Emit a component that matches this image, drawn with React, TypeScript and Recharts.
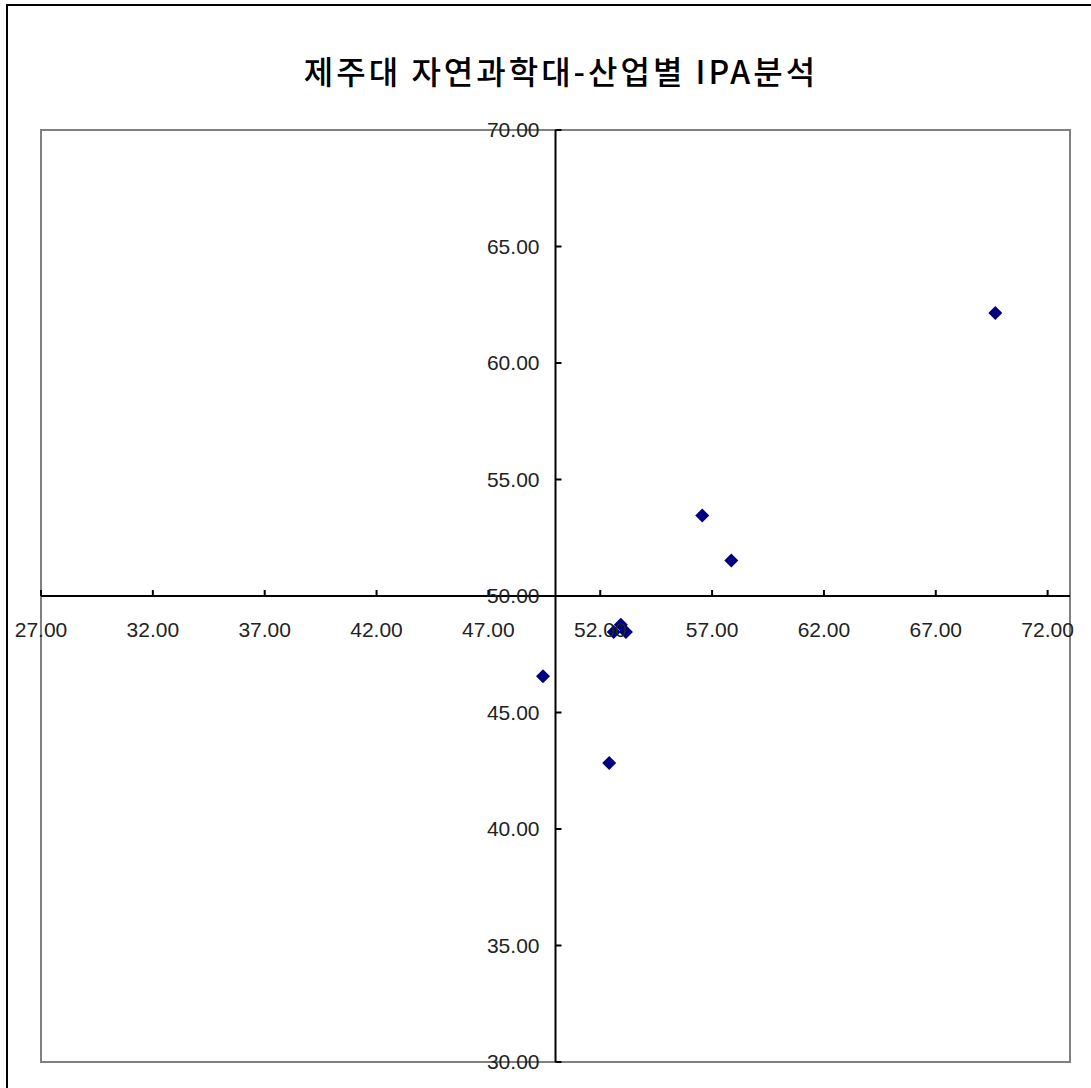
import React from "react";
import { ScatterChart, Scatter, XAxis, YAxis, ReferenceLine, ReferenceArea } from "recharts";

const TITLE = "제주대 자연과학대-산업별 IPA분석";
const satisfaction = [69.66, 56.56, 57.86, 49.44, 52.4, 52.6, 52.92, 53.15];
const importance = [62.15, 53.45, 51.52, 46.56, 42.83, 48.46, 48.77, 48.46];
const xTicks = [27, 32, 37, 42, 47, 52, 57, 62, 67, 72];
const yTicks = [30, 35, 40, 45, 50, 55, 60, 65, 70];
const X_DOMAIN: [number, number] = [27, 73];
const Y_DOMAIN: [number, number] = [30, 70];
const X_CROSS = 50;
const Y_CROSS = 50;

const data = satisfaction.map((x, i) => ({ x, y: importance[i] }));

const W = 1091;
const H = 1088;
const AX = 1;
const M = { top: 130, left: 41 - AX, right: 21, bottom: 26 - AX };
const plotLeft = 41;
const plotW = W - 41 - 21;
const plotH = H - 130 - 26;
const crossX = plotLeft + (plotW * (X_CROSS - X_DOMAIN[0])) / (X_DOMAIN[1] - X_DOMAIN[0]);
const crossY = 130 + (plotH * (Y_DOMAIN[1] - Y_CROSS)) / (Y_DOMAIN[1] - Y_DOMAIN[0]);

const FONT = "'Liberation Sans', Arial, sans-serif";

const XTick = (props: any) => {
  const { x, payload } = props;
  return (
    <g>
      <line x1={x} x2={x} y1={crossY} y2={crossY - 6} stroke="#000" strokeWidth={2} />
      <text x={x} y={crossY + 41} textAnchor="middle" fontFamily={FONT} fontSize={21} fill="#222">
        {Number(payload.value).toFixed(2)}
      </text>
    </g>
  );
};

const YTick = (props: any) => {
  const { y, payload } = props;
  return (
    <g>
      <line x1={crossX} x2={crossX + 6} y1={y} y2={y} stroke="#000" strokeWidth={2} />
      <text x={crossX - 16} y={y + 7} textAnchor="end" fontFamily={FONT} fontSize={21} fill="#222">
        {Number(payload.value).toFixed(2)}
      </text>
    </g>
  );
};

const Diamond = (props: any) => {
  const { cx, cy } = props;
  const r = 7;
  return (
    <polygon
      points={`${cx},${cy - r} ${cx + r},${cy} ${cx},${cy + r} ${cx - r},${cy}`}
      fill="#000080"
    />
  );
};

export default function App() {
  return (
    <div style={{ position: "absolute", left: 0, top: 0, width: W, height: H, overflow: "hidden", background: "#fff" }}>
      <div
        style={{
          position: "absolute",
          left: 6,
          top: 4,
          width: 1200,
          height: 1200,
          border: "2px solid #000",
          boxSizing: "border-box",
        }}
      />
      <div
        style={{
          position: "absolute",
          left: 0,
          top: 47,
          width: 1122,
          textAlign: "center",
          fontFamily: "'Noto Sans CJK KR', sans-serif",
          fontSize: 32,
          fontWeight: 500,
          letterSpacing: 3,
          lineHeight: "46px",
          color: "#000",
        }}
      >
        {TITLE}
      </div>
      <div style={{ position: "absolute", left: 0, top: 0 }}>
        <ScatterChart width={W} height={H} margin={M} style={{ overflow: "visible" }}>
          <XAxis
            type="number"
            dataKey="x"
            domain={X_DOMAIN}
            ticks={xTicks}
            interval={0}
            height={AX}
            axisLine={false}
            tickLine={false}
            tick={XTick}
            allowDataOverflow
          />
          <YAxis
            type="number"
            dataKey="y"
            domain={Y_DOMAIN}
            ticks={yTicks}
            interval={0}
            width={AX}
            axisLine={false}
            tickLine={false}
            tick={YTick}
            allowDataOverflow
          />
          <ReferenceArea x1={X_DOMAIN[0]} x2={X_DOMAIN[1]} y1={Y_DOMAIN[0]} y2={Y_DOMAIN[1]} fill="none" stroke="#808080" strokeWidth={2} />
          <ReferenceLine y={Y_CROSS} stroke="#000" strokeWidth={2} />
          <ReferenceLine x={X_CROSS} stroke="#000" strokeWidth={2} />
          <Scatter data={data} shape={Diamond} isAnimationActive={false} />
        </ScatterChart>
      </div>
    </div>
  );
}
